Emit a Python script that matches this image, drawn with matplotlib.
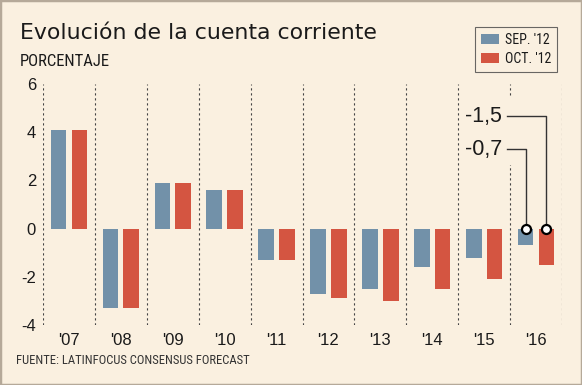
import matplotlib
matplotlib.use("Agg")
import matplotlib.pyplot as plt
from matplotlib import font_manager as fm
from matplotlib.patches import Rectangle, Patch

years = ["'07", "'08", "'09", "'10", "'11", "'12", "'13", "'14", "'15", "'16"]
sep12 = [4.1, -3.3, 1.9, 1.6, -1.3, -2.7, -2.5, -1.6, -1.2, -0.7]
oct12 = [4.1, -3.3, 1.9, 1.6, -1.3, -2.9, -3.0, -2.5, -2.1, -1.5]
series_names = ["SEP. '12", "OCT. '12"]
yticks = [-4, -2, 0, 2, 4, 6]
ann_labels = ["-0,7", "-1,5"]

available = {f.name for f in fm.fontManager.ttflist}
def pick(cands):
    for c in cands:
        if c in available:
            return c
    return "DejaVu Sans"
NARROW = pick(["Roboto Condensed", "Liberation Sans Narrow", "DejaVu Sans Condensed", "DejaVu Sans"])
REG = pick(["Liberation Sans", "Roboto", "DejaVu Sans"])
plt.rcParams['font.family'] = [REG, 'DejaVu Sans']

BG = "#faf0e0"
BLUE = "#7291a9"
RED = "#d45541"
TXT = "#1a1a1a"

fig = plt.figure(figsize=(5.82, 3.85), dpi=100, facecolor=BG)
fig.patches.append(Rectangle((0, 0), 1, 1, transform=fig.transFigure, fill=False,
                             edgecolor="#b5a999", linewidth=2.5, zorder=10))
ax = fig.add_axes([43/582, 1-325/385, (562-43)/582, (325-84)/385])
ax.set_facecolor(BG)

n = len(years)
xs = list(range(n))
w = 0.3
off = 0.2
ax.bar([x - off for x in xs], sep12, width=w, color=BLUE, zorder=3)
ax.bar([x + off for x in xs], oct12, width=w, color=RED, zorder=3)

for b in range(n + 1):
    ax.axvline(b - 0.5, color="#444444", linestyle=(0, (2, 2.5)), linewidth=0.8, zorder=1)

ax.set_xlim(-0.5, n - 0.5)
ax.set_ylim(-4, 6)
ax.set_yticks(yticks)
ax.set_yticklabels([str(t) for t in yticks])
ax.set_xticks(xs)
ax.set_xticklabels(years)
ax.tick_params(axis='both', length=0, labelsize=12, colors=TXT)
ax.tick_params(axis='y', pad=5)
ax.tick_params(axis='x', pad=6)
for s in ax.spines.values():
    s.set_visible(False)

# annotation for 2016
ax.add_patch(Rectangle((8.3, 2.62), 0.4, 2.8, facecolor=BG, edgecolor='none', zorder=2))
i16 = n - 1
ty = [3.3, 4.67]
for k, (val_x, lab, yy) in enumerate(zip([i16 - off, i16 + off], ann_labels, ty)):
    ax.plot([8.44, val_x, val_x], [yy, yy, 0], color="#333333", linewidth=1.0, zorder=4)
    ax.text(8.34, yy, lab, ha='right', va='center', fontsize=15.5, color=TXT, zorder=5)
    ax.plot([val_x], [0], marker='o', markersize=6.5, markerfacecolor='white',
            markeredgecolor='black', markeredgewidth=1.6, zorder=6)

fig.text(20/582, 1-39/385, "Evolución de la cuenta corriente", fontsize=15.8,
         color=TXT, va='baseline', ha='left', family=['DejaVu Sans'])
fig.text(20/582, 1-66/385, "PORCENTAJE", fontsize=12, color=TXT, va='baseline',
         ha='left', family=[NARROW, 'DejaVu Sans'])
fig.text(16/582, 1-364/385, "FUENTE: LATINFOCUS CONSENSUS FORECAST", fontsize=9.1,
         color="#333333", va='baseline', ha='left', family=[NARROW, 'DejaVu Sans'])

handles = [Patch(facecolor=BLUE), Patch(facecolor=RED)]
leg = fig.legend(handles, series_names, loc='upper right', bbox_to_anchor=(557/582, 1-27/385),
                 prop={'family': [NARROW, 'DejaVu Sans'], 'size': 10},
                 frameon=True, fancybox=False, handlelength=1.3,
                 handleheight=0.75, handletextpad=0.45, labelspacing=0.4,
                 borderpad=0.4, borderaxespad=0)
leg.get_frame().set_facecolor(BG)
leg.get_frame().set_edgecolor("#444444")
leg.get_frame().set_linewidth(0.8)
for t in leg.get_texts():
    t.set_color(TXT)

fig.savefig("out.png", dpi=100, facecolor=BG)
